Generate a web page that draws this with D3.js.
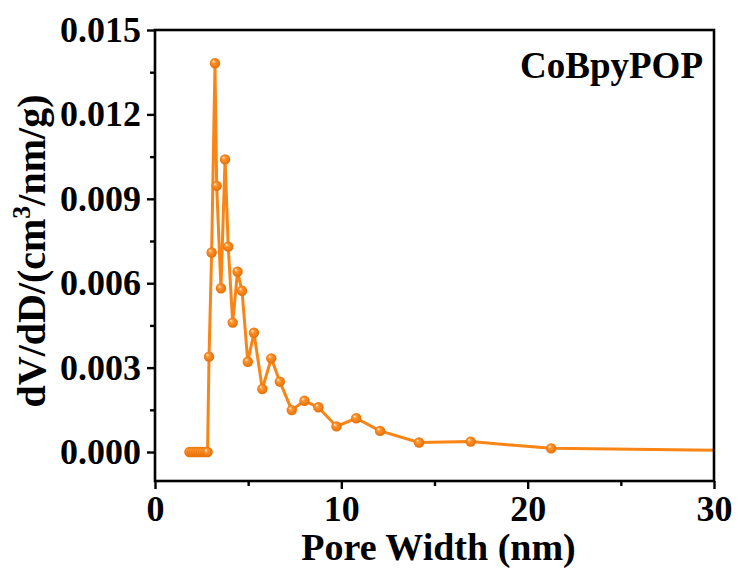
<!DOCTYPE html>
<html>
<head>
<meta charset="utf-8">
<script src="https://cdn.jsdelivr.net/npm/d3@7"></script>
<style>
  body { margin: 0; background: #fff; }
  svg { display: block; font-family: "Liberation Serif", "Times New Roman", serif; font-weight: bold; }
</style>
</head>
<body>
<svg id="chart" width="739" height="570"></svg>
<script>
// pore width (nm) and dV/dD (cm3/nm/g)
const poreWidth = [1.85, 1.98, 2.1, 2.22, 2.34, 2.46, 2.58, 2.7, 2.82,
   2.9, 3.04, 3.22, 3.31, 3.54, 3.76, 3.93, 4.17, 4.43, 4.67, 4.98, 5.31,
   5.76, 6.24, 6.7, 7.34, 8.02, 8.77, 9.74, 10.8, 12.08, 14.17, 16.94, 21.26, 33];
const dVdD = [0, 0, 0, 0, 0, 0, 0, 0, 0,
   0.00339, 0.00709, 0.01382, 0.00946, 0.00582, 0.0104, 0.0073, 0.0046, 0.00641, 0.00573, 0.00321, 0.00424,
   0.00224, 0.00333, 0.0025, 0.00149, 0.00182, 0.00159, 0.00091, 0.0012, 0.00075, 0.00034, 0.00037, 0.00013, 0.00004];

const xTicks = [0, 10, 20, 30];
const yTicks = [0, 0.003, 0.006, 0.009, 0.012, 0.015];
const seriesName = "CoBpyPOP";

const width = 739, height = 570;
const margin = { top: 30, right: 25, bottom: 89, left: 155 };
const orange = "#F98516";

const svg = d3.select("#chart");

const x = d3.scaleLinear().domain([0, 30]).range([margin.left, width - margin.right]);
const y = d3.scaleLinear().domain([-0.00103, 0.015]).range([height - margin.bottom, margin.top]);

// clip so the line runs off the right edge
svg.append("clipPath").attr("id", "plotClip")
   .append("rect")
   .attr("x", margin.left).attr("y", margin.top)
   .attr("width", width - margin.left - margin.right)
   .attr("height", height - margin.top - margin.bottom);

// shiny ball markers
const grad = svg.append("defs").append("radialGradient")
   .attr("id", "ball").attr("cx", "50%").attr("cy", "50%").attr("r", "55%")
   .attr("fx", "32%").attr("fy", "30%");
grad.append("stop").attr("offset", "0%").attr("stop-color", "#fff1dc");
grad.append("stop").attr("offset", "30%").attr("stop-color", "#ff9530");
grad.append("stop").attr("offset", "100%").attr("stop-color", "#e46a00");

const data = poreWidth.map((d, i) => ({ w: d, v: dVdD[i] }));

const plot = svg.append("g").attr("clip-path", "url(#plotClip)");

plot.append("path")
   .datum(data)
   .attr("fill", "none")
   .attr("stroke", orange)
   .attr("stroke-width", 3)
   .attr("stroke-linejoin", "round")
   .attr("d", d3.line().x(d => x(d.w)).y(d => y(d.v)));

plot.selectAll("circle")
   .data(data)
   .join("circle")
   .attr("cx", d => x(d.w))
   .attr("cy", d => y(d.v))
   .attr("r", 5.2)
   .attr("fill", "url(#ball)");

// axes
const xAxis = d3.axisBottom(x).tickValues(xTicks).tickSize(8).tickPadding(6).tickFormat(d3.format("d"));
const xMinor = d3.axisBottom(x).tickValues([5, 15, 25]).tickSize(5).tickFormat("");
const yAxis = d3.axisLeft(y).tickValues(yTicks).tickSize(8).tickPadding(6).tickFormat(d3.format(".3f"));
const yMinor = d3.axisLeft(y).tickValues([0.0015, 0.0045, 0.0075, 0.0105, 0.0135]).tickSize(5).tickFormat("");

function styleAxis(g) {
   g.select(".domain").remove();
   g.selectAll("line").attr("stroke", "#000").attr("stroke-width", 2.4);
   g.selectAll("text").attr("fill", "#000").attr("font-size", 36)
      .attr("font-family", "Liberation Serif, serif").attr("font-weight", "bold");
}

svg.append("g").attr("transform", `translate(0,${height - margin.bottom})`).call(xAxis).call(styleAxis);
svg.append("g").attr("transform", `translate(0,${height - margin.bottom})`).call(xMinor).call(styleAxis);
svg.append("g").attr("transform", `translate(${margin.left},0)`).call(yAxis).call(styleAxis);
svg.append("g").attr("transform", `translate(${margin.left},0)`).call(yMinor).call(styleAxis);

// frame
svg.append("rect")
   .attr("x", margin.left).attr("y", margin.top)
   .attr("width", width - margin.left - margin.right)
   .attr("height", height - margin.top - margin.bottom)
   .attr("fill", "none").attr("stroke", "#000").attr("stroke-width", 2.6);

// titles
svg.append("text")
   .attr("x", (margin.left + width - margin.right) / 2 + 4)
   .attr("y", 560)
   .attr("text-anchor", "middle")
   .attr("font-size", 38)
   .text("Pore Width (nm)");

const yTitle = svg.append("text")
   .attr("transform", `translate(45,251) rotate(-90)`)
   .attr("text-anchor", "middle")
   .attr("font-size", 40);
yTitle.append("tspan").text("dV/dD/(cm");
yTitle.append("tspan").attr("font-size", 26).attr("dy", -15).text("3");
yTitle.append("tspan").attr("dy", 15).text("/nm/g)");

svg.append("text")
   .attr("x", 703).attr("y", 78)
   .attr("text-anchor", "end")
   .attr("font-size", 37)
   .text(seriesName);
</script>
</body>
</html>
